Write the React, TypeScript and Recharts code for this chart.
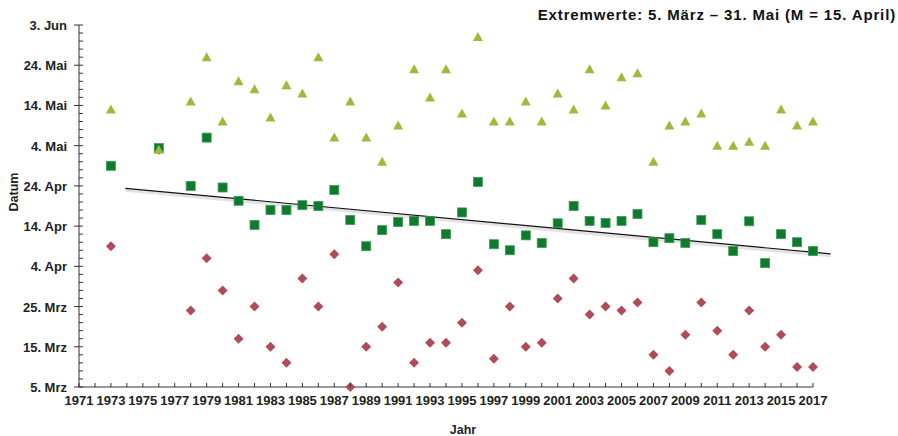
import { ScatterChart, Scatter, XAxis, YAxis, ReferenceLine } from "recharts";

// Jahre mit Beobachtungen
const years = [
  1973, 1976, 1978, 1979, 1980, 1981, 1982, 1983, 1984, 1985, 1986, 1987,
  1988, 1989, 1990, 1991, 1992, 1993, 1994, 1995, 1996, 1997, 1998, 1999,
  2000, 2001, 2002, 2003, 2004, 2005, 2006, 2007, 2008, 2009, 2010, 2011,
  2012, 2013, 2014, 2015, 2016, 2017,
];

// Tag im Jahr (1. Jan = 1)
const maxDays = [
  133, 123, 135, 146, 130, 140, 138, 131, 139, 137, 146, 126,
  135, 126, 120, 129, 143, 136, 143, 132, 151, 130, 130, 135,
  130, 137, 133, 143, 134, 141, 142, 120, 129, 130, 132, 124,
  124, 125, 124, 133, 129, 130,
];

const meanDays = [
  119, 123.4, 114, 126, 113.6, 110.3, 104.3, 108, 108, 109.2, 109, 113,
  105.5, 99, 103, 105, 105.3, 105.3, 102, 107.4, 115, 99.5, 98, 101.7,
  99.8, 104.7, 109, 105.3, 104.8, 105.3, 107, 100, 101, 99.8, 105.5, 102,
  97.8, 105.2, 94.8, 102, 100, 97.8,
];

const minDays = [
  99, 123, 83, 96, 88, 76, 84, 74, 70, 91, 84, 97,
  64, 74, 79, 90, 70, 75, 75, 80, 93, 71, 84, 74,
  75, 86, 91, 82, 84, 83, 85, 72, 68, 77, 85, 78,
  72, 83, 74, 77, 69, 69,
];

const trendYears = [1973.9, 2018.1];
const trendDays = [113.4, 97.1];

const xTicks = Array.from({ length: 47 }, (_, i) => 1971 + i);
const yTicks = Array.from({ length: 46 }, (_, i) => 64 + i * 2);

const MONTHS = ["Jan", "Feb", "Mrz", "Apr", "Mai", "Jun"];
const MONTH_DAYS = [31, 28, 31, 30, 31, 30];

function dayLabel(doy: number) {
  let d = doy;
  let m = 0;
  while (d > MONTH_DAYS[m]) {
    d -= MONTH_DAYS[m];
    m++;
  }
  return `${d}. ${MONTHS[m]}`;
}

const FONT = "'Liberation Sans', Arial, sans-serif";
const AXIS = "#333";

const toRows = (vals: number[]) => years.map((year, i) => ({ year, day: vals[i] }));

function XTick({ x, y, payload }: any) {
  const v = payload.value as number;
  return (
    <g>
      <line x1={x} x2={x} y1={y - 4} y2={y} stroke={AXIS} />
      {(v - 1971) % 2 === 0 && (
        <text x={x} y={y + 18} textAnchor="middle" fontFamily={FONT} fontWeight="bold" fontSize={13} fill="#222">
          {v}
        </text>
      )}
    </g>
  );
}

function YTick({ x, y, payload }: any) {
  const v = payload.value as number;
  const major = (v - 64) % 10 === 0;
  return (
    <g>
      <line x1={major ? x - 5 : x} x2={x + 4} y1={y} y2={y} stroke={AXIS} />
      {major && (
        <text x={x - 12} y={y + 5} textAnchor="end" fontFamily={FONT} fontWeight="bold" fontSize={13} fill="#222">
          {dayLabel(v)}
        </text>
      )}
    </g>
  );
}

const Triangle = ({ cx, cy }: any) => (
  <polygon points={`${cx},${cy - 5} ${cx + 5},${cy + 4} ${cx - 5},${cy + 4}`} fill="#9bbb3b" />
);
const Square = ({ cx, cy }: any) => (
  <rect x={cx - 4.5} y={cy - 4.5} width={9} height={9} fill="#0e7a2c" stroke="#3f9a5c" strokeWidth={0.8} />
);
const Diamond = ({ cx, cy }: any) => (
  <polygon points={`${cx},${cy - 5} ${cx + 5},${cy} ${cx},${cy + 5} ${cx - 5},${cy}`} fill="#b04c59" />
);

const TrendShape = ({ x1, y1, x2, y2 }: any) => (
  <g>
    <line x1={x1} y1={y1 + 2} x2={x2} y2={y2 + 2} stroke="#c8c8c8" strokeWidth={3} strokeOpacity={0.5} />
    <line x1={x1} y1={y1} x2={x2} y2={y2} stroke="#111" strokeWidth={1.2} />
  </g>
);

export default function App() {
  return (
    <div style={{ position: "absolute", left: 0, top: 0, width: 898, height: 436, background: "#fff" }}>
      <ScatterChart width={898} height={436} margin={{ top: 25, right: 85, bottom: 0, left: 0 }}>
        <XAxis
          type="number"
          dataKey="year"
          domain={[1971, 2017]}
          ticks={xTicks}
          interval={0}
          tickSize={0}
          tickMargin={0}
          tickLine={false}
          tick={<XTick />}
          height={49}
          stroke={AXIS}
        />
        <YAxis
          type="number"
          dataKey="day"
          domain={[64, 154]}
          ticks={yTicks}
          interval={0}
          tickSize={0}
          tickMargin={0}
          tickLine={false}
          tick={<YTick />}
          width={79}
          stroke={AXIS}
        />
        <Scatter data={toRows(minDays)} shape={<Diamond />} isAnimationActive={false} />
        <Scatter data={toRows(meanDays)} shape={<Square />} isAnimationActive={false} />
        <Scatter data={toRows(maxDays)} shape={<Triangle />} isAnimationActive={false} />
        <ReferenceLine
          segment={[
            { x: trendYears[0], y: trendDays[0] },
            { x: trendYears[1], y: trendDays[1] },
          ]}
          ifOverflow="visible"
          shape={<TrendShape />}
        />
      </ScatterChart>
      <div
        style={{
          position: "absolute",
          right: 2,
          top: 6,
          fontFamily: FONT,
          fontWeight: "bold",
          fontSize: 15,
          letterSpacing: 0.85,
          color: "#111",
          whiteSpace: "nowrap",
        }}
      >
        Extremwerte: 5. März – 31. Mai (M = 15. April)
      </div>
      <div
        style={{
          position: "absolute",
          left: 14,
          top: 192,
          transform: "translate(-50%, -50%) rotate(-90deg)",
          fontFamily: FONT,
          fontWeight: "bold",
          fontSize: 12.5,
          color: "#222",
        }}
      >
        Datum
      </div>
      <div
        style={{
          position: "absolute",
          left: 463,
          top: 430,
          transform: "translate(-50%, -50%)",
          fontFamily: FONT,
          fontWeight: "bold",
          fontSize: 12.5,
          color: "#222",
        }}
      >
        Jahr
      </div>
    </div>
  );
}
